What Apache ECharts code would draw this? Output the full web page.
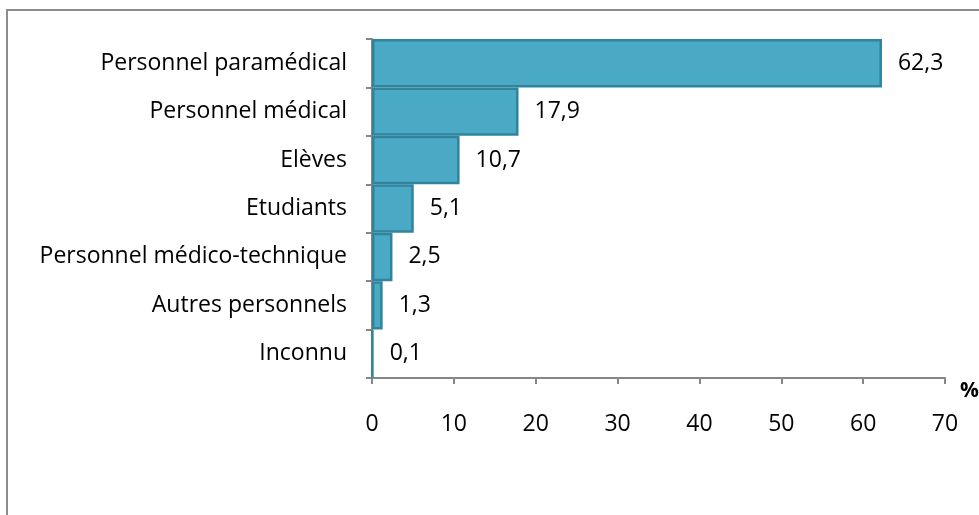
<!DOCTYPE html>
<html>
<head>
<meta charset="utf-8">
<script src="https://cdn.jsdelivr.net/npm/echarts@6/dist/echarts.min.js"></script>
<style>
  html, body { margin: 0; padding: 0; background: #ffffff; }
  #chart { width: 979px; height: 515px; }
</style>
</head>
<body>
<div id="chart"></div>
<script>
// Répartition par catégorie de personnel (%)
const categories = [
  'Personnel paramédical',
  'Personnel médical',
  'Elèves',
  'Etudiants',
  'Personnel médico-technique',
  'Autres personnels',
  'Inconnu'
];
const values = [62.3, 17.9, 10.7, 5.1, 2.5, 1.3, 0.1];
const axisMin = 0;
const axisMax = 70;
const axisStep = 10;
const unitLabel = '%';

const FONT = '"Open Sans", sans-serif';
const FONT_SIZE = 23;
const AXIS_GREY = '#868686';

const chart = echarts.init(document.getElementById('chart'), null, { renderer: 'canvas' });

chart.setOption({
  animation: false,
  backgroundColor: '#ffffff',
  grid: { left: 372, right: 34, top: 39, bottom: 137, containLabel: false },
  xAxis: {
    type: 'value',
    min: axisMin,
    max: axisMax,
    interval: axisStep,
    splitLine: { show: false },
    axisLine: { show: true, lineStyle: { color: AXIS_GREY, width: 2 } },
    axisTick: { show: true, length: 6, lineStyle: { color: AXIS_GREY, width: 2 } },
    axisLabel: { margin: 35, color: '#000000', fontFamily: FONT, fontSize: FONT_SIZE }
  },
  yAxis: {
    type: 'category',
    data: categories,
    inverse: true,
    axisLine: { show: true, lineStyle: { color: AXIS_GREY, width: 2 } },
    axisTick: { show: true, length: 6, alignWithLabel: false, lineStyle: { color: AXIS_GREY, width: 2 } },
    axisLabel: { margin: 25, color: '#000000', fontFamily: FONT, fontSize: FONT_SIZE }
  },
  series: [{
    type: 'bar',
    data: values,
    barCategoryGap: '0%',
    itemStyle: {
      color: '#4aaac5',
      borderColor: '#31849b',
      borderWidth: 2.5
    },
    label: {
      show: true,
      position: 'right',
      distance: 16,
      color: '#000000',
      fontFamily: FONT,
      fontSize: FONT_SIZE,
      formatter: p => String(p.value).replace('.', ',')
    }
  }],
  graphic: [
    {
      type: 'rect',
      silent: true,
      shape: { x: 7, y: 10, width: 1100, height: 700 },
      style: { fill: 'none', stroke: '#8c8c8c', lineWidth: 2 },
      z: -1
    },
    {
      type: 'text',
      left: 960,
      top: 381,
      style: { text: unitLabel, fontFamily: FONT, fontWeight: 'bold', fontSize: 21, fill: '#000000' }
    }
  ]
});
</script>
</body>
</html>
